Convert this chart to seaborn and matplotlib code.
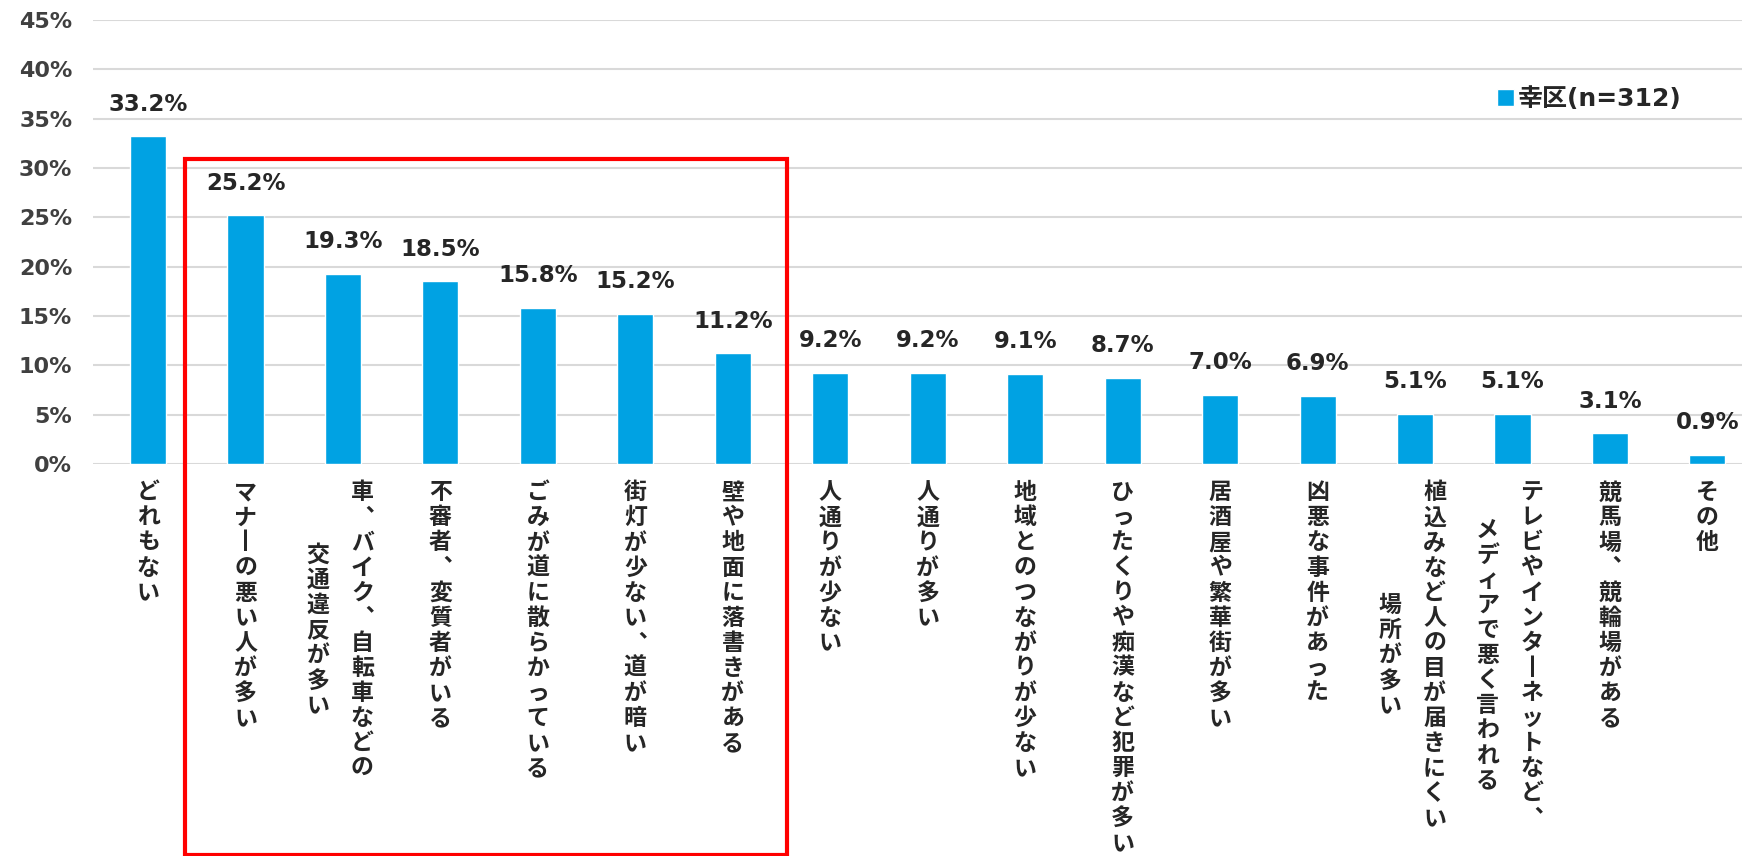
import matplotlib
matplotlib.use("Agg")
import matplotlib.pyplot as plt
import matplotlib.transforms as mtransforms
from matplotlib.patches import Rectangle
import pandas as pd
import seaborn as sns

# data
categories = [
    "どれもない",
    "マナーの悪い人が多い",
    "車、バイク、自転車などの\n交通違反が多い",
    "不審者、変質者がいる",
    "ごみが道に散らかっている",
    "街灯が少ない、道が暗い",
    "壁や地面に落書きがある",
    "人通りが少ない",
    "人通りが多い",
    "地域とのつながりが少ない",
    "ひったくりや痴漢など犯罪が多い",
    "居酒屋や繁華街が多い",
    "凶悪な事件があった",
    "植込みなど人の目が届きにくい\n場所が多い",
    "テレビやインターネットなど、\nメディアで悪く言われる",
    "競馬場、競輪場がある",
    "その他",
]
values = [33.2, 25.2, 19.3, 18.5, 15.8, 15.2, 11.2, 9.2, 9.2, 9.1, 8.7, 7.0, 6.9, 5.1, 5.1, 3.1, 0.9]
area = "幸区(n=312)"
y_ticks = [0, 5, 10, 15, 20, 25, 30, 35, 40, 45]
highlight = (1, 6)  # first and last highlighted category

bar_color = "#00A2E3"
text_color = "#262626"

sns.set_theme(style="white")
plt.rcParams['font.family'] = ['DejaVu Sans', 'Noto Sans CJK JP']

df = pd.DataFrame({"item": categories, "pct": values, "area": area})

fig = plt.figure(figsize=(17.56, 8.56), dpi=100)
ax = fig.add_axes([0.053, 0.458, 0.939, 0.5186])

sns.barplot(data=df, x="item", y="pct", hue="area", palette=[bar_color],
            width=0.37, saturation=1, ax=ax)

ax.set_xlim(-0.564, 16.354)
ax.set_ylim(0, 45)
ax.set_yticks(y_ticks)
ax.set_yticklabels([f"{t}%" for t in y_ticks], fontsize=16, fontweight="bold", color="#404040")
ax.tick_params(axis="y", length=0, pad=15)
ax.set_xticks([])
ax.set_xlabel("")
ax.set_ylabel("")
ax.yaxis.grid(True, color="#D9D9D9", linewidth=1.5)
ax.set_axisbelow(True)
for s in ax.spines.values():
    s.set_visible(False)

# value labels
for cont in ax.containers:
    ax.bar_label(cont, labels=[f"{v:.1f}%" for v in values], padding=15,
                 fontsize=16.5, fontweight="bold", color=text_color)

# legend
handles, labels = ax.get_legend_handles_labels()
ax.legend(handles, labels, loc="center right", bbox_to_anchor=(0.977, 0.822),
          frameon=False, prop={"size": 18, "weight": "bold"},
          handlelength=0.7, handleheight=0.7, handletextpad=0.15, labelcolor=text_color)


# vertical (tategaki) category labels
def vertical(s):
    s = s.replace("ー", "丨").replace("、", "︑")
    return "\n".join(s)


label_kw = dict(ha="center", va="top", fontsize=16.5, fontweight="bold",
                color=text_color, linespacing=1.115, family=['Noto Sans CJK JP', 'DejaVu Sans'])
for i, lab in enumerate(categories):
    cols = lab.split("\n")
    dx = 0 if len(cols) == 1 else 14
    t1 = ax.annotate(vertical(cols[0]), xy=(i, 0), xycoords=("data", "axes fraction"),
                     xytext=(dx, -12.5), textcoords="offset points", **label_kw)
    if len(cols) > 1:
        kw = dict(label_kw, va="center")
        ax.annotate(vertical(cols[1]), xy=(0.5, 0.5), xycoords=t1,
                    xytext=(-32, 0), textcoords="offset points", **kw)

# red highlight box around categories 2-7
trans = mtransforms.blended_transform_factory(ax.transData, ax.transAxes)
x0 = highlight[0] - 0.62
x1 = highlight[1] + 0.554
ax.add_patch(Rectangle((x0, -0.881), x1 - x0, 0.687 + 0.881, transform=trans,
                       fill=False, edgecolor="#FF0000", linewidth=3, clip_on=False))

fig.savefig("out.png", dpi=100)
